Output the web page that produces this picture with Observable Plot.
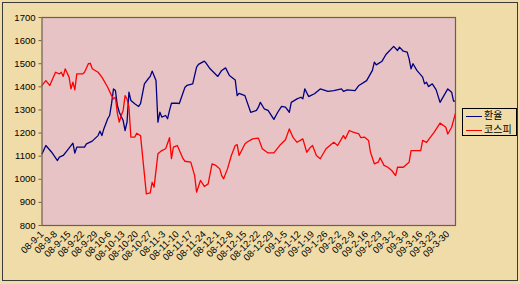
<!DOCTYPE html>
<html>
<head>
<meta charset="utf-8">
<script src="https://cdn.jsdelivr.net/npm/d3@7"></script>
<script src="https://cdn.jsdelivr.net/npm/@observablehq/plot@0.6"></script>
<style>
  html, body { margin: 0; padding: 0; background: #fff; }
  #wrap { position: relative; width: 520px; height: 284px; }
  #wrap svg { display: block; }
  .outer-border { position: absolute; left: 2px; top: 2px; width: 516px; height: 279px;
    box-sizing: border-box; border: 1px solid #3a3a3a; pointer-events: none; }
  .legend { position: absolute; left: 462px; top: 108px; width: 55px; height: 28px;
    box-sizing: border-box; border: 1px solid #000; background: #f0dca8; }
  .legend .row { position: absolute; left: 0; height: 12px; width: 53px; }
  .legend .swatch { position: absolute; left: 3px; top: 5.5px; width: 16px; height: 0; border-top: 1.3px solid; }
  .legend .lab { position: absolute; left: 21px; top: -1px; font: 10px 'Noto Sans CJK KR', sans-serif; line-height: 12px; color: #000; white-space: nowrap; }
</style>
</head>
<body>
<div id="wrap"></div>
<script>
// ---- data ----
const seriesNames = ["환율", "코스피"];

const krwDates = [
  "2008-09-01","2008-09-03","2008-09-06","2008-09-09","2008-09-10","2008-09-12","2008-09-14","2008-09-17","2008-09-18","2008-09-19","2008-09-23","2008-09-24","2008-09-27","2008-09-30",
  "2008-10-01","2008-10-02","2008-10-03","2008-10-05","2008-10-06","2008-10-07","2008-10-08","2008-10-09","2008-10-10","2008-10-11","2008-10-13","2008-10-14","2008-10-15","2008-10-16","2008-10-17","2008-10-19","2008-10-21","2008-10-22","2008-10-24","2008-10-26","2008-10-27","2008-10-28","2008-10-30","2008-10-31",
  "2008-11-01","2008-11-02","2008-11-04","2008-11-05","2008-11-06","2008-11-07","2008-11-08","2008-11-10","2008-11-11","2008-11-14","2008-11-15","2008-11-18","2008-11-20","2008-11-21","2008-11-24","2008-11-25","2008-11-27",
  "2008-12-01","2008-12-03","2008-12-05","2008-12-07","2008-12-10","2008-12-11","2008-12-12","2008-12-15","2008-12-18","2008-12-21","2008-12-22","2008-12-23","2008-12-25","2008-12-27","2008-12-30",
  "2009-01-01","2009-01-03","2009-01-05","2009-01-07","2009-01-08","2009-01-11","2009-01-13","2009-01-14","2009-01-15","2009-01-17","2009-01-18","2009-01-20","2009-01-23","2009-01-27","2009-01-30",
  "2009-02-03","2009-02-04","2009-02-06","2009-02-10","2009-02-12","2009-02-16","2009-02-19","2009-02-20","2009-02-21","2009-02-24","2009-02-26",
  "2009-03-02","2009-03-04","2009-03-05","2009-03-07","2009-03-09","2009-03-10","2009-03-11","2009-03-12","2009-03-14","2009-03-17","2009-03-18","2009-03-19","2009-03-20","2009-03-22","2009-03-24","2009-03-26","2009-03-28","2009-03-30",
  "2009-04-01","2009-04-02","2009-04-03"
];
const krwValues = [
  1110,1146,1117,1081,1096,1103,1124,1156,1113,1139,1139,1153,1165,1189,
  1208,1189,1218,1262,1276,1327,1391,1384,1319,1290,1254,1211,1247,1377,1341,1327,1315,1327,1413,1435,1445,1468,1427,1247,
  1290,1269,1276,1262,1298,1329,1329,1329,1327,1398,1406,1413,1485,1497,1511,1502,1478,
  1445,1471,1482,1449,1430,1362,1372,1362,1290,1298,1312,1333,1305,1298,1259,
  1290,1315,1312,1290,1333,1348,1355,1348,1391,1358,1362,1370,1391,1380,1384,
  1391,1380,1387,1384,1406,1427,1471,1507,1495,1511,1540,
  1575,1557,1572,1554,1550,1521,1478,1500,1471,1442,1413,1420,1401,1413,1387,1333,1362,1391,
  1377,1338,1338
];

const kospiDates = [
  "2008-09-01","2008-09-03","2008-09-05","2008-09-08","2008-09-10","2008-09-11","2008-09-12","2008-09-13","2008-09-15","2008-09-16","2008-09-17","2008-09-18","2008-09-19","2008-09-22","2008-09-23","2008-09-25","2008-09-26","2008-09-27","2008-09-30",
  "2008-10-02","2008-10-05","2008-10-07","2008-10-08","2008-10-09","2008-10-10","2008-10-11","2008-10-12","2008-10-13","2008-10-14","2008-10-15","2008-10-16","2008-10-17","2008-10-19","2008-10-20","2008-10-22","2008-10-25","2008-10-27","2008-10-28","2008-10-29","2008-10-31",
  "2008-11-02","2008-11-04","2008-11-06","2008-11-07","2008-11-08","2008-11-10","2008-11-13","2008-11-14","2008-11-17","2008-11-19","2008-11-20","2008-11-22","2008-11-24","2008-11-26","2008-11-28","2008-11-30",
  "2008-12-02","2008-12-03","2008-12-04","2008-12-06","2008-12-08","2008-12-10","2008-12-11","2008-12-12","2008-12-15","2008-12-16","2008-12-19","2008-12-22","2008-12-24","2008-12-27","2008-12-30",
  "2009-01-02","2009-01-05","2009-01-07","2009-01-09","2009-01-11","2009-01-14","2009-01-16","2009-01-18","2009-01-19","2009-01-21","2009-01-23","2009-01-26","2009-01-30",
  "2009-02-01","2009-02-04","2009-02-05","2009-02-07","2009-02-09","2009-02-12","2009-02-13","2009-02-15","2009-02-17","2009-02-18","2009-02-20","2009-02-22","2009-02-23","2009-02-25","2009-02-27",
  "2009-03-01","2009-03-03","2009-03-04","2009-03-07","2009-03-10","2009-03-11","2009-03-16","2009-03-17","2009-03-19","2009-03-23","2009-03-26","2009-03-29","2009-03-30",
  "2009-04-01","2009-04-03"
];
const kospiValues = [
  1406,1427,1406,1463,1456,1463,1445,1478,1442,1391,1420,1387,1456,1456,1463,1500,1502,1478,1463,
  1442,1398,1362,1348,1355,1285,1247,1276,1298,1362,1348,1312,1182,1182,1199,1189,937,941,987,966,1110,
  1124,1132,1180,1089,1139,1146,1089,1078,1074,1016,944,995,969,980,1067,1060,
  1045,1016,1002,1045,1103,1146,1150,1103,1153,1160,1175,1178,1132,1114,1114,
  1146,1171,1218,1180,1160,1175,1117,1139,1146,1103,1089,1132,1160,
  1146,1189,1175,1211,1204,1196,1180,1182,1168,1117,1067,1074,1093,1060,1052,
  1038,1016,1052,1052,1074,1124,1124,1168,1160,1204,1243,1225,1196,
  1225,1286
];

const xTickLabels = [
  "08-9-1","08-9-8","08-9-15","08-9-22","08-9-29","08-10-6","08-10-13","08-10-20","08-10-27",
  "08-11-3","08-11-10","08-11-17","08-11-24","08-12-1","08-12-8","08-12-15","08-12-22","08-12-29",
  "09-1-5","09-1-12","09-1-19","09-1-26","09-2-2","09-2-9","09-2-16","09-2-23",
  "09-3-2","09-3-9","09-3-16","09-3-23","09-3-30"
];
const yTicks = [800, 900, 1000, 1100, 1200, 1300, 1400, 1500, 1600, 1700];
const xDomain = ["2008-09-01", "2009-04-03"];

// ---- build ----
const parseISO = d3.utcParse("%Y-%m-%d");
const parseLabel = d3.utcParse("%y-%m-%d");
const krw = krwDates.map((d, i) => ({date: parseISO(d), value: krwValues[i]}));
const kospi = kospiDates.map((d, i) => ({date: parseISO(d), value: kospiValues[i]}));
const tickDates = xTickLabels.map(parseLabel);
const labelByTime = new Map(tickDates.map((d, i) => [+d, xTickLabels[i]]));

const BG = "#f0dca8";
const PLOTBG = "#e7c3c5";
const FRAME = "#6f5f49";
const BLUE = "#000080";
const RED = "#ff0000";
const FONT = "'Liberation Sans', Arial, sans-serif";

const chart = Plot.plot({
  width: 520,
  height: 284,
  marginLeft: 41.5,
  marginRight: 65,
  marginTop: 17,
  marginBottom: 59,
  style: {background: BG, fontFamily: FONT, fontSize: "9.5px", color: "#000"},
  x: {type: "utc", domain: xDomain.map(parseISO)},
  y: {domain: [800, 1700]},
  marks: [
    Plot.frame({fill: PLOTBG, stroke: null}),
    Plot.axisY({ticks: yTicks, tickSize: 3, tickPadding: 3.5, label: null, tickFormat: d => String(d), stroke: FRAME, fill: "#000"}),
    Plot.axisX({ticks: tickDates, tickFormat: d => labelByTime.get(+d), tickRotate: -45, tickSize: 0, tickPadding: 7, label: null, fill: "#000"}),
    Plot.line(krw, {x: "date", y: "value", stroke: BLUE, strokeWidth: 1.3}),
    Plot.line(kospi, {x: "date", y: "value", stroke: RED, strokeWidth: 1.3}),
    Plot.frame({stroke: FRAME, strokeWidth: 1.2})
  ]
});

const wrap = document.getElementById("wrap");
wrap.appendChild(chart);

// decorations: outer border and legend (HTML overlays)
const border = document.createElement("div");
border.className = "outer-border";
wrap.appendChild(border);

const legend = document.createElement("div");
legend.className = "legend";
const colors = [BLUE, RED];
seriesNames.forEach((name, i) => {
  const row = document.createElement("div");
  row.className = "row";
  row.style.top = (1 + i * 14) + "px";
  const sw = document.createElement("div");
  sw.className = "swatch";
  sw.style.borderTopColor = colors[i];
  const lab = document.createElement("div");
  lab.className = "lab";
  lab.textContent = name;
  row.appendChild(sw);
  row.appendChild(lab);
  legend.appendChild(row);
});
wrap.appendChild(legend);
</script>
</body>
</html>
